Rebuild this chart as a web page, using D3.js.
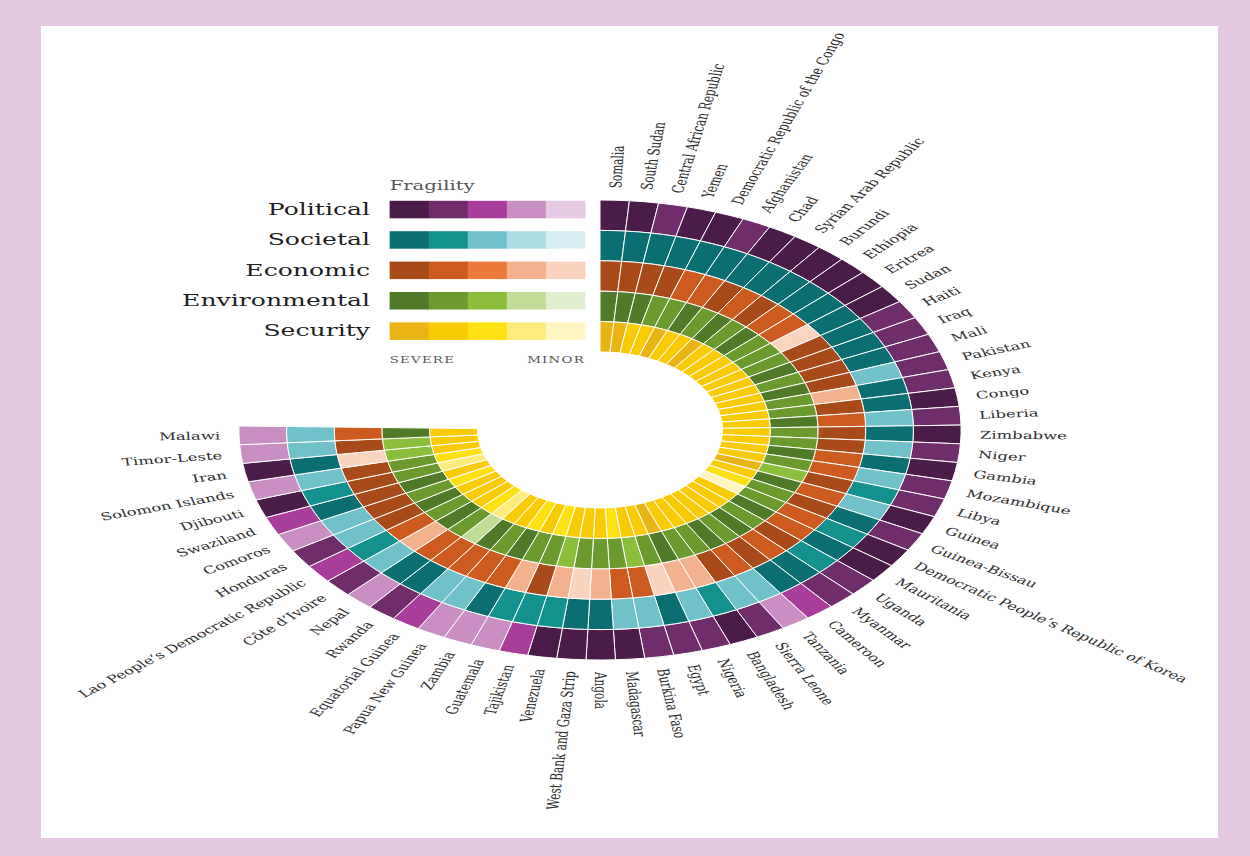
<!DOCTYPE html>
<html>
<head>
<meta charset="utf-8">
<script src="https://cdn.jsdelivr.net/npm/d3@7"></script>
<style>
html,body{margin:0;padding:0;background:#e4c8e1;}
svg{display:block;}
</style>
</head>
<body>
<svg id="chart" width="1250" height="856"></svg>
<script>
// ---------- DATA ----------
const countries = ["Somalia","South Sudan","Central African Republic","Yemen","Democratic Republic of the Congo","Afghanistan","Chad","Syrian Arab Republic","Burundi","Ethiopia","Eritrea","Sudan","Haiti","Iraq","Mali","Pakistan","Kenya","Congo","Liberia","Zimbabwe","Niger","Gambia","Mozambique","Libya","Guinea","Guinea-Bissau","Democratic People\u2019s Republic of Korea","Mauritania","Uganda","Myanmar","Cameroon","Tanzania","Sierra Leone","Bangladesh","Nigeria","Egypt","Burkina Faso","Madagascar","Angola","West Bank and Gaza Strip","Venezuela","Tajikistan","Guatemala","Zambia","Papua New Guinea","Equatorial Guinea","Rwanda","Nepal","C\u00f4te d\u2019Ivoire","Lao People\u2019s Democratic Republic","Honduras","Comoros","Swaziland","Djibouti","Solomon Islands","Iran","Timor-Leste","Malawi"];

const dimensions = ["Political","Societal","Economic","Environmental","Security"];

// fragility class: 1 = severe ... 5 = minor
const political     = [1,1,2,1,1,2,1,1,1,1,1,1,2,2,2,2,2,1,2,1,2,1,2,2,1,2,1,1,2,2,3,4,2,1,2,2,2,1,1,1,1,3,4,4,4,3,2,4,2,3,2,4,3,1,4,1,4,4];
const societal      = [1,1,1,1,1,1,1,1,1,1,1,1,1,1,1,3,1,1,3,1,3,1,3,2,3,1,2,1,2,1,1,3,3,2,3,1,3,3,1,1,2,2,2,1,3,3,1,1,3,2,3,3,1,2,3,1,3,3];
const economic      = [1,1,1,1,2,2,1,2,1,2,2,5,1,1,1,1,4,1,2,1,1,2,2,1,2,1,2,2,1,2,1,2,1,4,4,5,2,2,4,5,4,1,4,2,2,2,2,2,4,2,1,1,1,1,1,5,1,2];
const environmental = [1,1,1,2,2,1,2,1,2,1,2,2,2,1,2,1,2,2,1,2,2,1,2,3,1,2,2,1,2,1,2,1,2,2,1,2,3,2,2,2,3,2,2,1,2,1,4,2,1,2,1,2,1,2,2,3,3,1];
const security      = [1,1,2,2,1,2,2,1,2,2,2,2,2,2,2,2,2,2,2,2,2,2,2,1,2,3,5,2,2,2,2,2,2,2,1,2,2,3,2,2,2,3,2,3,2,2,4,3,2,2,2,3,2,4,3,2,2,2];

const legendLevels = [1,2,3,4,5];
const legendTitle = "Fragility";
const legendLow = "SEVERE";
const legendHigh = "MINOR";

const palettes = {
  Political:     ["#4b1b49","#6f2d6b","#a83d9a","#c98fc3","#e7c9e4"],
  Societal:      ["#0b6e72","#13918f","#70c1ca","#aedbe1","#d6eef1"],
  Economic:      ["#a94a1b","#cd5b20","#ec7b3b","#f4b18d","#fad4be"],
  Environmental: ["#4f7a2a","#6b9b2f","#8bbf3b","#c1dc97","#e0eecd"],
  Security:      ["#e9b414","#f9cb06","#fde113","#fdec7c","#fef5c2"]
};

// ---------- LAYOUT ----------
const svg = d3.select("#chart");
svg.append("rect").attr("x",0).attr("y",0).attr("width",1250).attr("height",856).attr("fill","#e4c8e1");
svg.append("rect").attr("x",41).attr("y",26).attr("width",1177).attr("height",812).attr("fill","#ffffff");

const cx = 600, cy = 430, sx = 1.57;
const g = svg.append("g").attr("transform",`translate(${cx},${cy}) scale(${sx},1)`);

const values = {Political:political, Societal:societal, Economic:economic, Environmental:environmental, Security:security};

const angle = d3.scaleBand().domain(countries).range([0, 271*Math.PI/180]).padding(0);
// radial band per dimension, outer (Political) -> inner (Security)
const ring = d3.scaleBand().domain(dimensions.slice().reverse()).range([78, 230]).padding(0);
const rIn = dm => ring(dm);
const rOut = dm => ring(dm) + ring.bandwidth();

const color = {};
dimensions.forEach(dm => color[dm] = d3.scaleOrdinal().domain(legendLevels).range(palettes[dm]));

const arc = d3.arc();
const cells = [];
dimensions.forEach(dm => {
  countries.forEach((c,i) => {
    cells.push({dim:dm, country:c, v:values[dm][i]});
  });
});

g.append("g").selectAll("path").data(cells).join("path")
  .attr("d", d => arc({
      innerRadius: rIn(d.dim),
      outerRadius: rOut(d.dim),
      startAngle: angle(d.country),
      endAngle: angle(d.country) + angle.bandwidth()
  }))
  .attr("fill", d => color[d.dim](d.v))
  .attr("stroke", "#ffffff")
  .attr("stroke-width", 1)
  .attr("vector-effect","non-scaling-stroke");

// country labels
const labelR = 242;
g.append("g").selectAll("text").data(countries).join("text")
  .each(function(c){
    const a = (angle(c) + angle.bandwidth()/2) * 180/Math.PI;
    const t = d3.select(this);
    if (a < 180) {
      t.attr("transform", `rotate(${a-90}) translate(${labelR},0)`).attr("text-anchor","start");
    } else {
      t.attr("transform", `rotate(${a+90}) translate(${-labelR},0)`).attr("text-anchor","end");
    }
  })
  .attr("dy","0.35em")
  .attr("font-family","'DejaVu Serif', serif")
  .attr("font-size",10.5)
  .attr("fill","#2e2e2e")
  .text(d => d);

// legend
const legX0 = -134, legX1 = -9.6;
const sw = d3.scaleBand().domain(legendLevels).range([legX0, legX1]);
const leg = g.append("g");
dimensions.forEach(dm => {
  const y = -rOut(dm) + 0.8;
  leg.append("g").selectAll("rect").data(legendLevels).join("rect")
    .attr("x", d => sw(d)).attr("y", y)
    .attr("width", sw.bandwidth()+0.3).attr("height", 17.5)
    .attr("fill", d => color[dm](d));
  leg.append("text")
    .attr("x", -146.5).attr("y", y + 14)
    .attr("text-anchor","end")
    .attr("font-family","'DejaVu Serif', serif")
    .attr("font-size",16)
    .attr("fill","#1e1e1e")
    .text(dm);
});
leg.append("text").attr("x", legX0).attr("y", -240)
  .attr("font-family","'DejaVu Serif', serif").attr("font-size",12.5).attr("fill","#555")
  .text(legendTitle);
leg.append("text").attr("x", legX0).attr("y", -67.5)
  .attr("font-family","'DejaVu Serif', serif").attr("font-size",8.5).attr("letter-spacing",0.8).attr("fill","#555")
  .text(legendLow);
leg.append("text").attr("x", legX1).attr("y", -67.5).attr("text-anchor","end")
  .attr("font-family","'DejaVu Serif', serif").attr("font-size",8.5).attr("letter-spacing",0.8).attr("fill","#555")
  .text(legendHigh);
</script>
</body>
</html>
